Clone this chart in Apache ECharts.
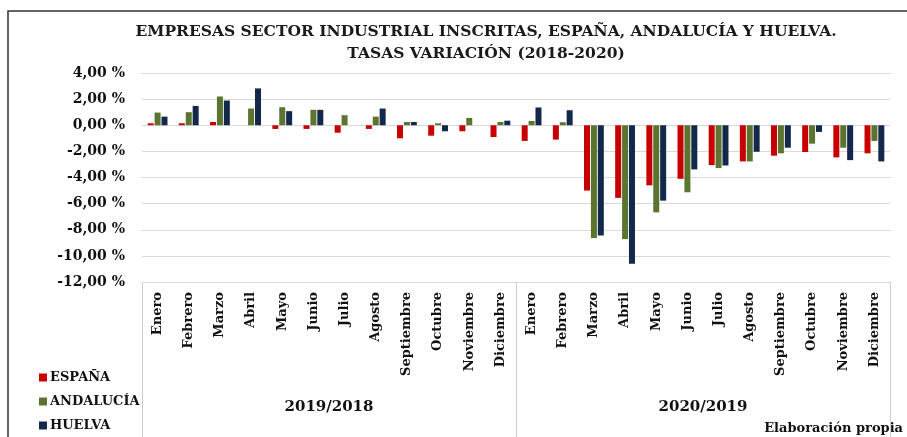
<!DOCTYPE html>
<html>
<head>
<meta charset="utf-8">
<script src="https://cdn.jsdelivr.net/npm/echarts@6/dist/echarts.min.js"></script>
<style>
  html, body { margin: 0; padding: 0; background: #fff; }
  #chart { width: 907px; height: 437px; }
</style>
</head>
<body>
<div id="chart"></div>
<script>
// meses y periodos
const meses = ['Enero', 'Febrero', 'Marzo', 'Abril', 'Mayo', 'Junio', 'Julio', 'Agosto',
  'Septiembre', 'Octubre', 'Noviembre', 'Diciembre']
const categorias = meses.concat(meses)
const periodos = ['2019/2018', '2020/2019']

// tasas de variación (%)
const espana = [0.15, 0.15, 0.25, 0, -0.28, -0.28, -0.57, -0.28, -1.0, -0.8, -0.46, -0.9,
  -1.2, -1.1, -5.0, -5.56, -4.6, -4.1, -3.05, -2.77, -2.33, -2.05, -2.46, -2.15]
const andalucia = [0.97, 1.0, 2.2, 1.28, 1.38, 1.18, 0.77, 0.66, 0.25, 0.15, 0.56, 0.25,
  0.33, 0.23, -8.64, -8.72, -6.67, -5.13, -3.28, -2.77, -2.15, -1.41, -1.72, -1.2]
const huelva = [0.66, 1.48, 1.89, 2.82, 1.08, 1.18, 0, 1.28, 0.25, -0.46, 0, 0.35,
  1.36, 1.15, -8.44, -10.6, -5.77, -3.38, -3.08, -2.03, -1.72, -0.51, -2.67, -2.77]

const serif = 'DejaVu Serif'
const chart = echarts.init(document.getElementById('chart'))

const barSerie = (name, data, color) => ({
  name: name,
  type: 'bar',
  data: data,
  barWidth: 6,
  barGap: '15%',
  itemStyle: { color: color },
})

const option = {
  animation: false,
  title: {
    text: 'EMPRESAS SECTOR INDUSTRIAL INSCRITAS, ESPAÑA, ANDALUCÍA Y HUELVA.\nTASAS VARIACIÓN (2018-2020)',
    left: 481,
    top: 16,
    textAlign: 'center',
    textStyle: {
      fontFamily: serif,
      fontWeight: 'bold',
      fontSize: 15.5,
      lineHeight: 22,
      color: '#1a1a1a',
    },
  },
  legend: {
    orient: 'vertical',
    left: 34,
    top: 366,
    itemGap: 11,
    itemWidth: 8,
    itemHeight: 8,
    icon: 'rect',
    textStyle: {
      fontFamily: serif,
      fontWeight: 'bold',
      fontSize: 13,
      color: '#111',
      padding: [0, 0, 0, -2],
    },
    data: ['ESPAÑA', 'ANDALUCÍA', 'HUELVA'],
  },
  grid: [
    { left: 142, right: 17, top: 73, bottom: 155 },
    // caja de los periodos bajo el eje de meses
    { left: 142, right: 17, top: 282, height: 160 },
  ],
  xAxis: [
    {
      type: 'category',
      gridIndex: 0,
      data: categorias,
      axisLine: { show: true, onZero: false, lineStyle: { color: '#d9d9d9' } },
      axisTick: { show: false },
      axisLabel: {
        rotate: 90,
        interval: 0,
        margin: 10,
        fontFamily: serif,
        fontWeight: 'bold',
        fontSize: 13,
        color: '#111',
      },
    },
    {
      type: 'category',
      gridIndex: 1,
      data: periodos,
      position: 'bottom',
      axisLine: { show: false },
      axisTick: { show: false },
      splitLine: { show: true, interval: 0, lineStyle: { color: '#cfcfcf' } },
      axisLabel: {
        inside: true,
        margin: 22,
        fontFamily: serif,
        fontWeight: 'bold',
        fontSize: 15,
        color: '#111',
      },
    },
  ],
  yAxis: [
    {
      type: 'value',
      gridIndex: 0,
      min: -12,
      max: 4,
      interval: 2,
      axisLine: { show: false },
      axisTick: { show: false },
      splitLine: { lineStyle: { color: '#d9d9d9' } },
      axisLabel: {
        margin: 17,
        fontFamily: serif,
        fontWeight: 'bold',
        fontSize: 14,
        color: '#111',
        formatter: v => v.toFixed(2).replace('.', ',') + ' %',
      },
    },
    {
      type: 'value',
      gridIndex: 1,
      show: false,
      splitLine: { show: false },
    },
  ],
  graphic: [
    {
      type: 'rect',
      shape: { x: 8, y: 11, width: 1000, height: 500 },
      style: { fill: 'none', stroke: '#333', lineWidth: 1.5 },
      silent: true,
    },
    {
      type: 'text',
      right: 4,
      bottom: 2,
      style: {
        text: 'Elaboración propia',
        fontFamily: serif,
        fontWeight: 'bold',
        fontSize: 13,
        fill: '#111',
      },
    },
  ],
  series: [
    barSerie('ESPAÑA', espana, '#c80000'),
    barSerie('ANDALUCÍA', andalucia, '#5b7430'),
    barSerie('HUELVA', huelva, '#13284a'),
  ],
}

chart.setOption(option)
window.addEventListener('resize', () => {
  chart.resize()
})
</script>
</body>
</html>
